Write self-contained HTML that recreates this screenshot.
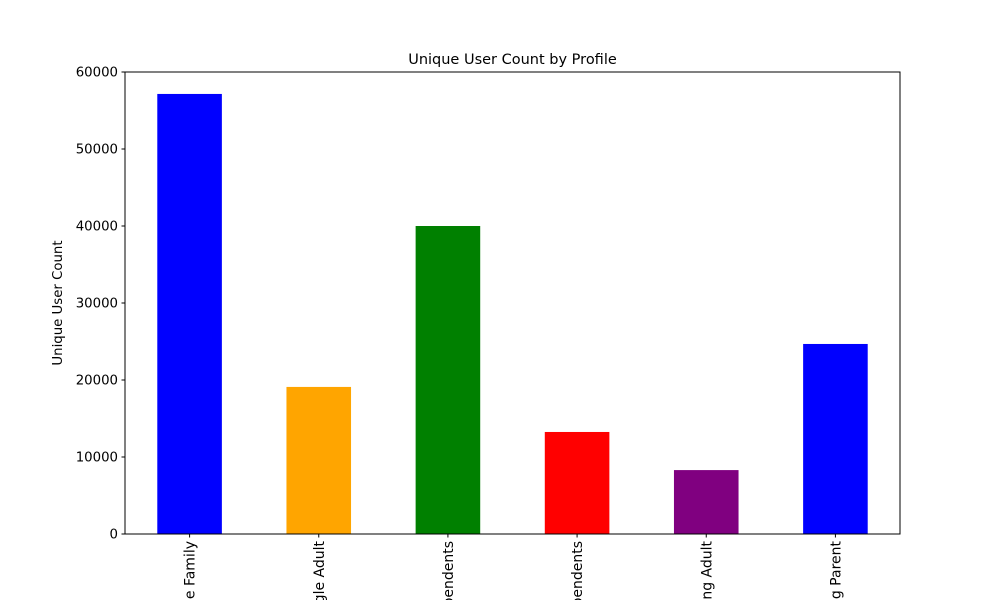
<!DOCTYPE html>
<html><head><meta charset="utf-8"><style>html,body{margin:0;background:#fff;width:1000px;height:600px;overflow:hidden}svg{display:block;font-family:"DejaVu Sans","Liberation Sans",sans-serif;overflow:hidden}</style></head>
<body>
<svg id="chart" width="1000" height="600">
<rect width="1000" height="600" fill="#fff"/>
<text x="512.5" y="64" font-size="14.5" text-anchor="middle">Unique User Count by Profile</text>
<text transform="translate(62,303) rotate(-90)" font-size="13.3" text-anchor="middle">Unique User Count</text>
<g id="bars"></g><g id="yticks"></g><g id="xticks"></g>
<rect x="125" y="72" width="775" height="462" fill="none" stroke="#000" stroke-width="1"/>
</svg>
<script>
const categories = ["Large Family","Single Adult","Couple with Dependents","Single with Dependents","Young Adult","Working Parent"];
const values = [57150, 19100, 40000, 13250, 8300, 24680];
const colors = ["blue","orange","green","red","purple","blue"];
const yTicks = [0,10000,20000,30000,40000,50000,60000];
const L=125,R=900,T=72,B=534,yMax=60000;
const ns="http://www.w3.org/2000/svg";
const y=v=>B-(v/yMax)*(B-T);
const step=(R-L)/categories.length;
const x=i=>L+step*(i+0.5);
const bars=document.getElementById('bars'),yt=document.getElementById('yticks'),xt=document.getElementById('xticks');
function mk(t,a){const e=document.createElementNS(ns,t);for(const k in a)e.setAttribute(k,a[k]);return e;}
values.forEach((v,i)=>{
  const r=mk('rect',{x:x(i)-step*0.25,y:y(v),width:step*0.5,height:B-y(v),fill:colors[i]});
  
  
  bars.appendChild(r);
});
yTicks.forEach(v=>{
  const l=mk('line',{x1:L-3.5,x2:L,y1:y(v),y2:y(v),stroke:'#000'});
  
  
  yt.appendChild(l);
  const t=mk('text',{x:L-7,y:y(v)+4.5,'font-size':13.3,'text-anchor':'end'});
  t.textContent=v;
  
  
  yt.appendChild(t);
});
categories.forEach((c,i)=>{
  const l=mk('line',{x1:x(i),x2:x(i),y1:B,y2:B+3.5,stroke:'#000'});
  
  
  xt.appendChild(l);
  const t=mk('text',{transform:`translate(${x(i)+5},541) rotate(-90)`,'font-size':14,'text-anchor':'end'});
  t.textContent=c;
  
  
  xt.appendChild(t);
});
</script>
</body></html>
